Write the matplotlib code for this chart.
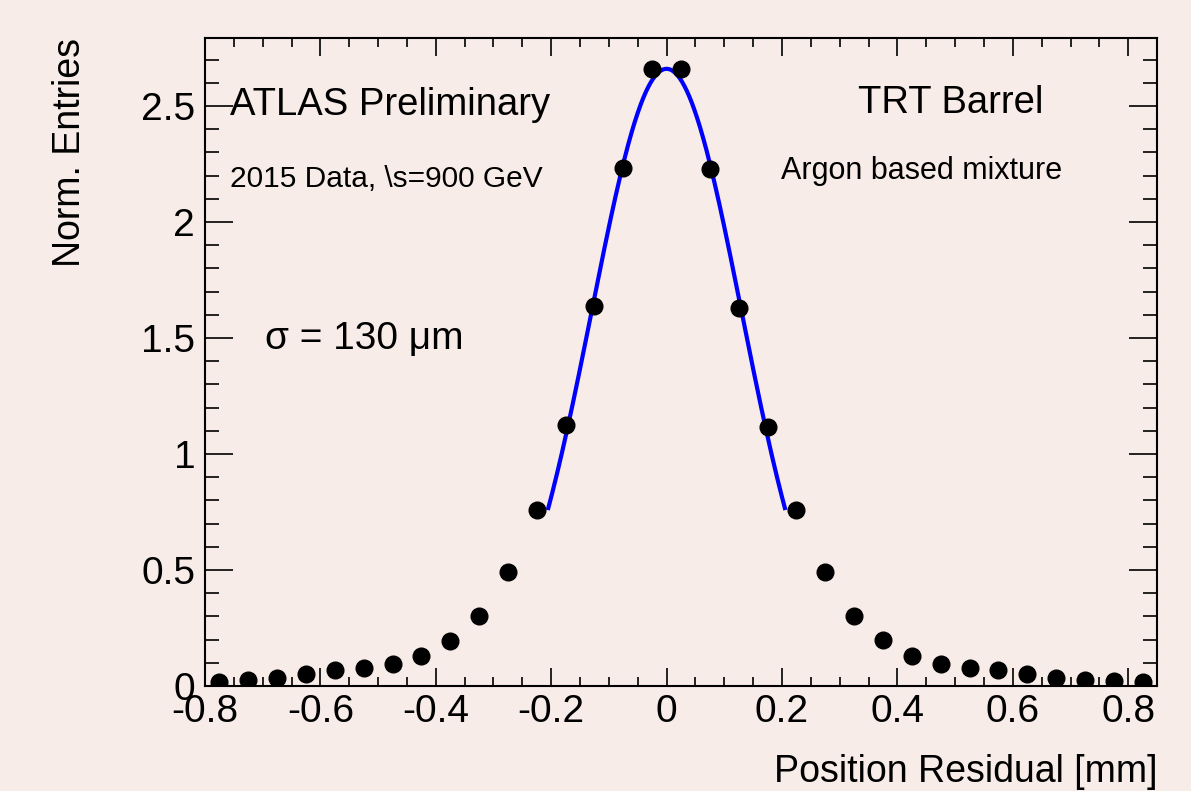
import numpy as np
import matplotlib
matplotlib.use("Agg")
import matplotlib.pyplot as plt
from matplotlib.ticker import MultipleLocator

# bin centres [mm] and normalised entries
residual = [-0.775, -0.725, -0.675, -0.625, -0.575, -0.525, -0.475, -0.425,
            -0.375, -0.325, -0.275, -0.225, -0.175, -0.125, -0.075, -0.025,
            0.025, 0.075, 0.125, 0.175, 0.225, 0.275, 0.325, 0.375,
            0.425, 0.475, 0.525, 0.575, 0.625, 0.675, 0.725, 0.775, 0.825]
entries = [0.018, 0.026, 0.036, 0.052, 0.069, 0.079, 0.094, 0.129,
           0.195, 0.303, 0.491, 0.759, 1.125, 1.638, 2.233, 2.660,
           2.660, 2.228, 1.629, 1.116, 0.759, 0.491, 0.303, 0.197,
           0.129, 0.094, 0.079, 0.069, 0.052, 0.036, 0.026, 0.022, 0.017]

xtick_vals = [-0.8, -0.6, -0.4, -0.2, 0, 0.2, 0.4, 0.6, 0.8]
xtick_labels = ["-0.8", "-0.6", "-0.4", "-0.2", "0", "0.2", "0.4", "0.6", "0.8"]
ytick_vals = [0, 0.5, 1, 1.5, 2, 2.5]
ytick_labels = ["0", "0.5", "1", "1.5", "2", "2.5"]

# gaussian fit parameters
fit_amp = 2.66
fit_mean = 0.0
fit_sigma = 0.13
fit_range = (-0.205, 0.205)

bg = "#f7ece8"
plt.rcParams["font.family"] = ["Liberation Sans", "DejaVu Sans"]

fig = plt.figure(figsize=(11.91, 7.91), dpi=100, facecolor=bg)
ax = fig.add_axes([0.1721, 0.1327, 0.7994, 0.8193], facecolor=bg)

xf = np.linspace(fit_range[0], fit_range[1], 300)
yf = fit_amp * np.exp(-0.5 * ((xf - fit_mean) / fit_sigma) ** 2)
ax.plot(xf, yf, color="#0000ff", lw=3, zorder=2)
ax.plot(residual, entries, "o", color="black", ms=12, zorder=3)

ax.set_xlim(-0.8, 0.85)
ax.set_ylim(0, 2.793)
ax.xaxis.set_minor_locator(MultipleLocator(0.05))
ax.yaxis.set_minor_locator(MultipleLocator(0.1))
ax.set_xticks(xtick_vals)
ax.set_xticklabels(xtick_labels)
ax.set_yticks(ytick_vals)
ax.set_yticklabels(ytick_labels)

for s in ax.spines.values():
    s.set_linewidth(1.5)
ax.tick_params(which="both", direction="in", top=True, right=True,
               labelsize=28, width=1.2, colors="black")
ax.tick_params(axis="x", which="major", length=13, pad=6)
ax.tick_params(axis="x", which="minor", length=6.5)
ax.tick_params(axis="y", which="major", length=20, pad=7)
ax.tick_params(axis="y", which="minor", length=10)

ax.set_xlabel("Position Residual [mm]", fontsize=27, loc="right", labelpad=17)
ax.set_ylabel("Norm. Entries", fontsize=27, loc="top", labelpad=38)

ax.text(0.026, 0.881, "ATLAS Preliminary", transform=ax.transAxes,
        fontsize=27.5, va="baseline", ha="left")
ax.text(0.026, 0.770, "2015 Data, \\s=900 GeV", transform=ax.transAxes,
        fontsize=21.5, va="baseline", ha="left")
ax.text(0.783, 0.884, "TRT Barrel", transform=ax.transAxes,
        fontsize=27.5, va="baseline", ha="center")
ax.text(0.605, 0.782, "Argon based mixture", transform=ax.transAxes,
        fontsize=22, va="baseline", ha="left")
ax.text(0.063, 0.520, "σ = 130 μm", transform=ax.transAxes,
        fontsize=28, va="baseline", ha="left")

fig.savefig("out.png", dpi=100, facecolor=bg)
